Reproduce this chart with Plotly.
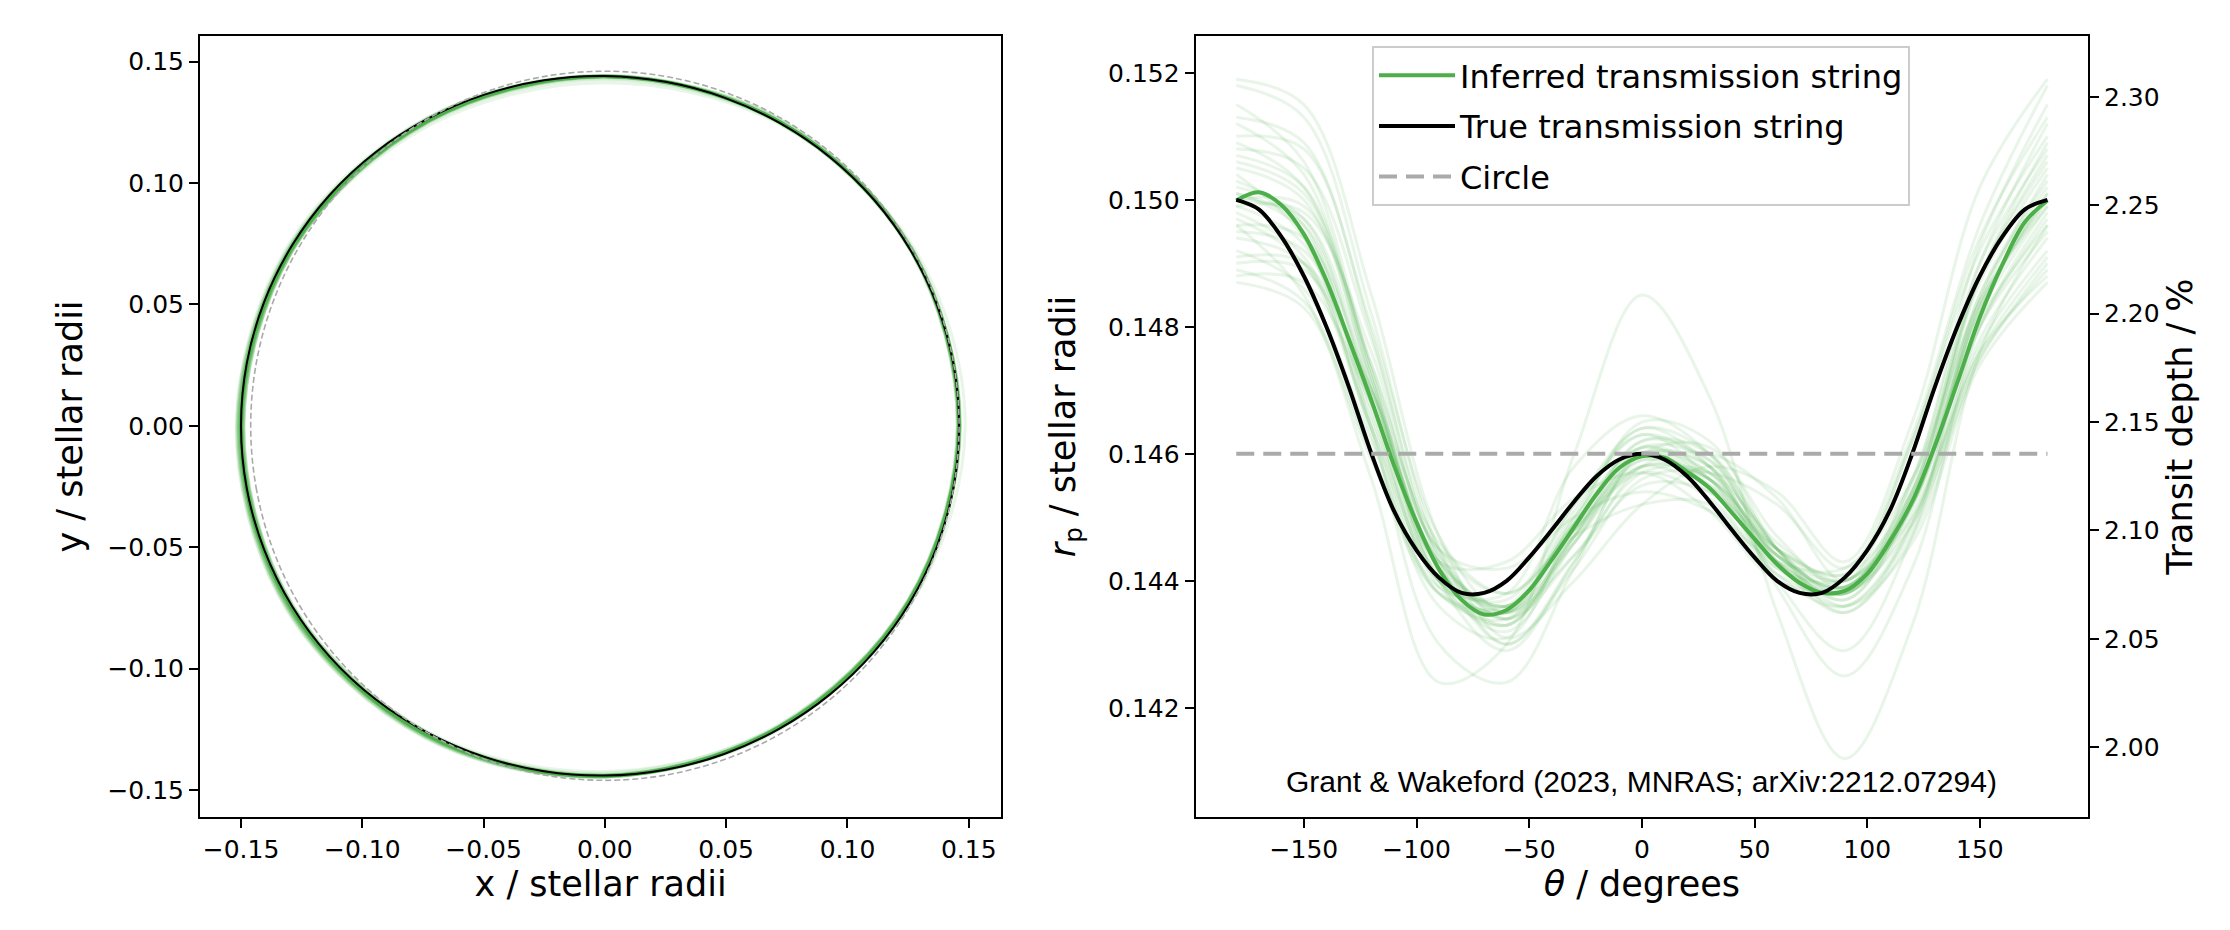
import numpy as np
import plotly.graph_objects as go

# ---------------- data ----------------
theta_fine = [-180, -170, -160, -150, -140, -130, -120, -110, -100, -90, -80, -70, -60,
              -50, -40, -30, -20, -10, 0, 10, 20, 30, 40, 50, 60, 70, 80, 90, 100,
              110, 120, 130, 140, 150, 160, 170, 180]

r_true = [0.15000, 0.14985, 0.14942, 0.14880, 0.14800, 0.14705, 0.14600, 0.14510,
          0.14448, 0.14405, 0.14381, 0.14381, 0.14400, 0.14437, 0.14480, 0.14525,
          0.14565, 0.14591, 0.14600, 0.14591, 0.14565, 0.14525, 0.14480, 0.14437,
          0.14400, 0.14381, 0.14381, 0.14405, 0.14448, 0.14510, 0.14600, 0.14705,
          0.14800, 0.14880, 0.14942, 0.14985, 0.15000]

r_inferred = [0.14999, 0.15012, 0.14992, 0.14946, 0.14873, 0.14780, 0.14684, 0.14582,
              0.14492, 0.14418, 0.14370, 0.14347, 0.14354, 0.14385, 0.14433, 0.14485,
              0.14537, 0.14578, 0.14596, 0.14594, 0.14572, 0.14546, 0.14507, 0.14466,
              0.14426, 0.14397, 0.14381, 0.14384, 0.14411, 0.14462, 0.14525, 0.14612,
              0.14712, 0.14815, 0.14898, 0.14965, 0.14999]

r_circle = 0.146

theta_coarse = [-180, -150, -120, -90, -60, -30, 0, 30, 60, 90, 120, 150, 180]

r_samples = [
    [0.15180, 0.15130, 0.14820, 0.14450, 0.14300, 0.14420, 0.14560, 0.14570, 0.14520, 0.14420, 0.14630, 0.14960, 0.15180],
    [0.14870, 0.14830, 0.14590, 0.14380, 0.14360, 0.14520, 0.14640, 0.14600, 0.14450, 0.14360, 0.14460, 0.14740, 0.14870],
    [0.15060, 0.15010, 0.14740, 0.14440, 0.14340, 0.14460, 0.14590, 0.14560, 0.14440, 0.14390, 0.14550, 0.14880, 0.15060],
    [0.14940, 0.14900, 0.14650, 0.14400, 0.14350, 0.14500, 0.14610, 0.14560, 0.14430, 0.14380, 0.14500, 0.14780, 0.14940],
    [0.15150, 0.15060, 0.14730, 0.14400, 0.14290, 0.14430, 0.14600, 0.14610, 0.14470, 0.14390, 0.14560, 0.14930, 0.15150],
    [0.14900, 0.14890, 0.14700, 0.14460, 0.14380, 0.14470, 0.14520, 0.14520, 0.14410, 0.14380, 0.14490, 0.14750, 0.14900],
    [0.15020, 0.14970, 0.14680, 0.14390, 0.14330, 0.14480, 0.14620, 0.14590, 0.14440, 0.14370, 0.14520, 0.14850, 0.15020],
    [0.15100, 0.15080, 0.14800, 0.14470, 0.14350, 0.14440, 0.14550, 0.14540, 0.14450, 0.14410, 0.14620, 0.14920, 0.15100],
    [0.14960, 0.14850, 0.14560, 0.14240, 0.14300, 0.14600, 0.14850, 0.14690, 0.14350, 0.14120, 0.14330, 0.14760, 0.14960],
    [0.15010, 0.14950, 0.14670, 0.14410, 0.14360, 0.14490, 0.14600, 0.14560, 0.14430, 0.14380, 0.14520, 0.14830, 0.15010],
    [0.14880, 0.14870, 0.14680, 0.14450, 0.14380, 0.14480, 0.14570, 0.14530, 0.14420, 0.14400, 0.14500, 0.14760, 0.14880],
    [0.15120, 0.15040, 0.14720, 0.14400, 0.14320, 0.14460, 0.14600, 0.14580, 0.14450, 0.14380, 0.14540, 0.14900, 0.15120],
    [0.14990, 0.14980, 0.14760, 0.14450, 0.14420, 0.14500, 0.14540, 0.14510, 0.14430, 0.14420, 0.14560, 0.14840, 0.14990],
    [0.15040, 0.14940, 0.14630, 0.14360, 0.14310, 0.14490, 0.14650, 0.14620, 0.14450, 0.14350, 0.14490, 0.14840, 0.15040],
    [0.14950, 0.14920, 0.14680, 0.14420, 0.14360, 0.14480, 0.14590, 0.14550, 0.14440, 0.14400, 0.14520, 0.14800, 0.14950],
    [0.15080, 0.15050, 0.14780, 0.14450, 0.14340, 0.14440, 0.14570, 0.14570, 0.14460, 0.14400, 0.14560, 0.14900, 0.15080],
    [0.14920, 0.14860, 0.14620, 0.14380, 0.14350, 0.14510, 0.14630, 0.14580, 0.14430, 0.14360, 0.14480, 0.14770, 0.14920],
    [0.15000, 0.14990, 0.14740, 0.14440, 0.14350, 0.14460, 0.14580, 0.14560, 0.14450, 0.14410, 0.14540, 0.14840, 0.15000],
    [0.15130, 0.15090, 0.14790, 0.14430, 0.14300, 0.14430, 0.14580, 0.14600, 0.14530, 0.14400, 0.14620, 0.14940, 0.15130],
    [0.14970, 0.14900, 0.14640, 0.14400, 0.14370, 0.14520, 0.14630, 0.14560, 0.14410, 0.14360, 0.14490, 0.14800, 0.14970],
    [0.15030, 0.14960, 0.14640, 0.14300, 0.14240, 0.14420, 0.14600, 0.14580, 0.14400, 0.14290, 0.14470, 0.14850, 0.15030],
    [0.14910, 0.14900, 0.14700, 0.14430, 0.14430, 0.14530, 0.14570, 0.14510, 0.14400, 0.14390, 0.14510, 0.14760, 0.14910],
    [0.15050, 0.15000, 0.14720, 0.14420, 0.14340, 0.14470, 0.14600, 0.14570, 0.14440, 0.14390, 0.14540, 0.14870, 0.15050],
    [0.14990, 0.14930, 0.14660, 0.14400, 0.14350, 0.14490, 0.14610, 0.14570, 0.14440, 0.14390, 0.14520, 0.14820, 0.14990],
    [0.15190, 0.15150, 0.14850, 0.14470, 0.14310, 0.14400, 0.14520, 0.14580, 0.14540, 0.14430, 0.14650, 0.15020, 0.15190],
    [0.14890, 0.14840, 0.14600, 0.14390, 0.14380, 0.14580, 0.14660, 0.14600, 0.14430, 0.14350, 0.14470, 0.14750, 0.14890],
    [0.15010, 0.14960, 0.14700, 0.14430, 0.14360, 0.14490, 0.14600, 0.14550, 0.14420, 0.14380, 0.14520, 0.14830, 0.15010],
    [0.14960, 0.14940, 0.14700, 0.14430, 0.14350, 0.14470, 0.14580, 0.14560, 0.14450, 0.14400, 0.14530, 0.14810, 0.14960],
    [0.15070, 0.15020, 0.14730, 0.14420, 0.14330, 0.14470, 0.14610, 0.14590, 0.14450, 0.14380, 0.14540, 0.14880, 0.15070],
    [0.14980, 0.14910, 0.14640, 0.14380, 0.14340, 0.14500, 0.14640, 0.14580, 0.14390, 0.14250, 0.14420, 0.14800, 0.14980],
    [0.15000, 0.14970, 0.14710, 0.14430, 0.14360, 0.14480, 0.14580, 0.14540, 0.14430, 0.14390, 0.14530, 0.14830, 0.15000],
    [0.15090, 0.15020, 0.14710, 0.14400, 0.14330, 0.14470, 0.14620, 0.14600, 0.14450, 0.14370, 0.14530, 0.14880, 0.15090],
]

# axis ticks
xy_ticks = [-0.15, -0.10, -0.05, 0.00, 0.05, 0.10, 0.15]
xy_ticktext = ["\u22120.15", "\u22120.10", "\u22120.05", "0.00", "0.05", "0.10", "0.15"]
theta_ticks = [-150, -100, -50, 0, 50, 100, 150]
theta_ticktext = ["\u2212150", "\u2212100", "\u221250", "0", "50", "100", "150"]
rp_ticks = [0.142, 0.144, 0.146, 0.148, 0.150, 0.152]
rp_ticktext = ["0.142", "0.144", "0.146", "0.148", "0.150", "0.152"]
depth_ticks = [2.00, 2.05, 2.10, 2.15, 2.20, 2.25, 2.30]
depth_ticktext = ["2.00", "2.05", "2.10", "2.15", "2.20", "2.25", "2.30"]

# axis limits
xlim_left = [-0.1669, 0.1634]
ylim_left = [-0.1611, 0.1605]
xlim_right = [-198, 198]
ylim_right = [0.14028, 0.15258]

credit = "Grant & Wakeford (2023, MNRAS; arXiv:2212.07294)"

# ---------------- styling ----------------
GREEN = "#4daf4a"
SAMPLE = "rgba(77,175,74,0.13)"
GREY = "#aaaaaa"
FONT = "DejaVu Sans"
TICK_SIZE = 25

W, H = 2230, 930
ML, MR, MT, MB = 192, 150, 28, 121
PW = W - ML - MR


def xy(theta, r):
    t = np.radians(np.asarray(theta, dtype=float))
    rr = np.asarray(r, dtype=float) * np.ones_like(t)
    return rr * np.cos(t), rr * np.sin(t)


fig = go.Figure()

# ---- left panel: projected shapes ----
for s in r_samples:
    x, y = xy(theta_coarse, s)
    fig.add_trace(go.Scatter(x=x, y=y, mode="lines", xaxis="x", yaxis="y",
                             line=dict(color=SAMPLE, width=3, shape="spline"),
                             showlegend=False, hoverinfo="skip"))
x, y = xy(theta_fine, r_inferred)
fig.add_trace(go.Scatter(x=x, y=y, mode="lines", xaxis="x", yaxis="y",
                         line=dict(color=GREEN, width=3, shape="spline"), showlegend=False))
x, y = xy(theta_fine, r_true)
fig.add_trace(go.Scatter(x=x, y=y, mode="lines", xaxis="x", yaxis="y",
                         line=dict(color="black", width=2, shape="spline"), showlegend=False))
x, y = xy(theta_fine, r_circle)
fig.add_trace(go.Scatter(x=x, y=y, mode="lines", xaxis="x", yaxis="y",
                         line=dict(color=GREY, width=1.6, dash="6px,3px", shape="spline"),
                         showlegend=False))

# ---- right panel: radius vs angle ----
for s in r_samples:
    fig.add_trace(go.Scatter(x=theta_coarse, y=s, mode="lines", xaxis="x2", yaxis="y2",
                             line=dict(color=SAMPLE, width=3, shape="spline"),
                             showlegend=False, hoverinfo="skip"))
fig.add_trace(go.Scatter(x=theta_fine, y=r_inferred, mode="lines", xaxis="x2", yaxis="y2",
                         name="Inferred transmission string", legendgroup="a",
                         line=dict(color=GREEN, width=4, shape="spline")))
fig.add_trace(go.Scatter(x=theta_fine, y=r_true, mode="lines", xaxis="x2", yaxis="y2",
                         name="True transmission string", legendgroup="b",
                         line=dict(color="black", width=4, shape="spline")))
fig.add_trace(go.Scatter(x=[theta_fine[0], theta_fine[-1]], y=[r_circle, r_circle],
                         mode="lines", xaxis="x2", yaxis="y2",
                         name="Circle", legendgroup="c",
                         line=dict(color=GREY, width=4, dash="18px,9px")))
# transit depth of the circle on the secondary axis (invisible, keeps the axis alive)
fig.add_trace(go.Scatter(x=[theta_fine[0], theta_fine[-1]],
                         y=[r_circle ** 2 * 100, r_circle ** 2 * 100],
                         mode="lines", xaxis="x2", yaxis="y3", opacity=0,
                         showlegend=False, hoverinfo="skip"))


def tfont():
    return dict(family=FONT, size=TICK_SIZE, color="black")


def axis_common():
    return dict(showline=True, linecolor="black", linewidth=2, ticks="outside",
                ticklen=9, tickwidth=2, tickcolor="black", showgrid=False,
                zeroline=False, fixedrange=True, tickmode="array")


title_font = dict(family=FONT, size=35, color="black")

left_dom = [0, (993.3 - ML) / PW]
right_dom = [(1187.7 - ML) / PW, 1]

fig.update_layout(
    width=W, height=H,
    margin=dict(l=ML, r=MR, t=MT, b=MB, autoexpand=False),
    paper_bgcolor="white", plot_bgcolor="white",
    font=dict(family=FONT, size=TICK_SIZE, color="black"),
    xaxis=dict(**axis_common(), domain=left_dom, range=xlim_left, anchor="y", mirror=True,
               tickvals=xy_ticks, ticktext=xy_ticktext, tickfont=tfont(),
               title=dict(text="x / stellar radii", font=title_font, standoff=0)),
    yaxis=dict(**axis_common(), domain=[0, 1], range=ylim_left, anchor="x", mirror=True,
               tickvals=xy_ticks, ticktext=xy_ticktext, tickfont=tfont(),
               title=dict(text="y / stellar radii", font=title_font, standoff=14)),
    xaxis2=dict(**axis_common(), domain=right_dom, range=xlim_right, anchor="y2", mirror=True,
                tickvals=theta_ticks, ticktext=theta_ticktext, tickfont=tfont(),
                title=dict(text="<i>θ</i> / degrees", font=title_font, standoff=0)),
    yaxis2=dict(**axis_common(), domain=[0, 1], range=ylim_right, anchor="x2", mirror=True,
                tickvals=rp_ticks, ticktext=rp_ticktext, tickfont=tfont(),
                title=dict(text="<i>r</i><sub>p</sub> / stellar radii", font=title_font,
                           standoff=22)),
    yaxis3=dict(**axis_common(), range=[ylim_right[0] ** 2 * 100, ylim_right[1] ** 2 * 100],
                overlaying="y2", side="right", anchor="x2",
                tickvals=depth_ticks, ticktext=depth_ticktext, tickfont=tfont(),
                title=dict(text="Transit depth / %", font=title_font, standoff=9)),
    legend=dict(x=(1364 - ML) / PW, y=(H - MB - 38) / (H - MT - MB),
                xanchor="left", yanchor="top",
                font=dict(family=FONT, size=32, color="black"),
                bgcolor="rgba(255,255,255,0.85)", bordercolor="#cccccc", borderwidth=2,
                traceorder="grouped", tracegroupgap=6, itemwidth=76),
    showlegend=True,
)

fig.add_annotation(text=credit, xref="x2 domain", yref="y2 domain", x=0.5, y=0.046,
                   xanchor="center", yanchor="middle", showarrow=False,
                   font=dict(family="Liberation Sans", size=30, color="black"))

fig.write_html("out.html")
